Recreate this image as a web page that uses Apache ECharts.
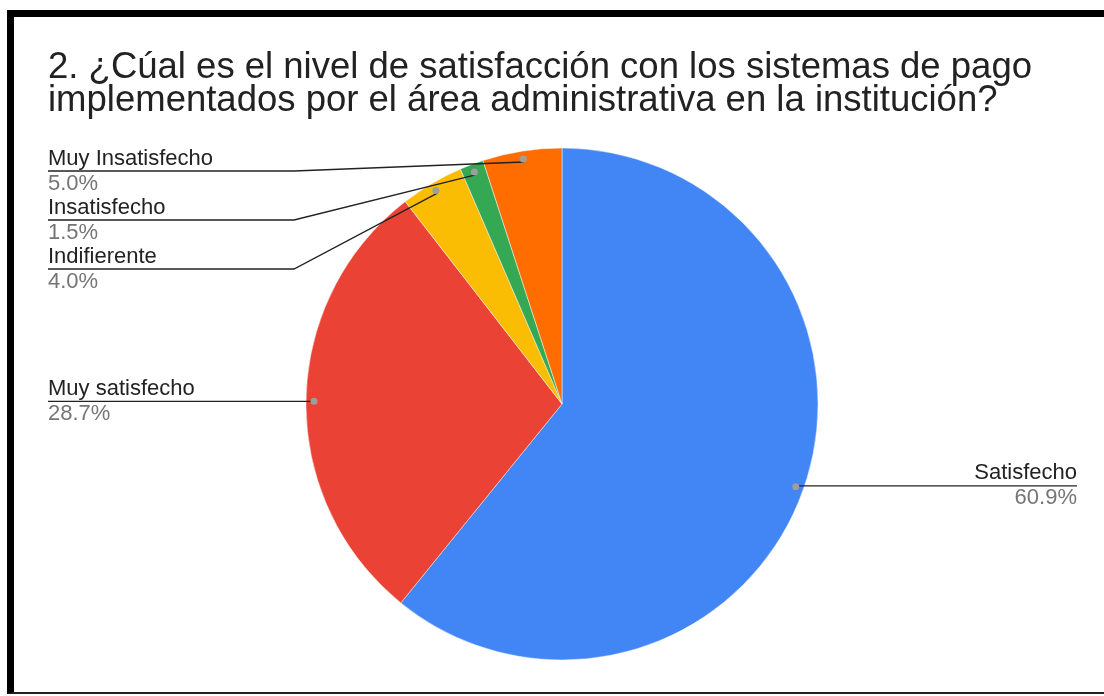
<!DOCTYPE html>
<html>
<head>
<meta charset="utf-8">
<script src="https://cdn.jsdelivr.net/npm/echarts@6/dist/echarts.min.js"></script>
<style>
  html, body { margin: 0; padding: 0; background: #fff; overflow: hidden; }
  #chart { position: absolute; left: 0; top: 0; width: 1104px; height: 696px; }
  #frame {
    position: absolute; left: 7px; top: 10px; width: 1110px; height: 684px;
    border-top: 7px solid #000; border-left: 7px solid #000; border-bottom: 2px solid #222;
    box-sizing: border-box; pointer-events: none;
  }
</style>
</head>
<body>
<div id="chart"></div>
<div id="frame"></div>
<script>
(function() {
  var categories = ['Satisfecho', 'Muy satisfecho', 'Indifierente', 'Insatisfecho', 'Muy Insatisfecho'];
  var values = [60.9, 28.7, 4.0, 1.5, 5.0];
  var colors = ['#4285F4', '#EA4335', '#FBBC04', '#34A853', '#FF6D01'];

  var font = '"Liberation Sans", Arial, sans-serif';
  var cx = 562, cy = 404, radius = 256, dotRadius = 245;
  var leftEdge = 48, rightEdge = 1077, bendX = 294, labelGap = 49, labelTop = 171;

  // leader dots sit at the middle angle of each slice
  var total = values.reduce(function(a, b) { return a + b; }, 0);
  var acc = 0;
  var dots = values.map(function(v) {
    var a = (acc + v / 2) / total * Math.PI * 2;
    acc += v;
    return [cx + dotRadius * Math.sin(a), cy - dotRadius * Math.cos(a)];
  });

  // stack the left-hand labels so they don't collide
  var labelY = dots.map(function(d) { return d[1]; });
  var leftIdx = dots.map(function(d, i) { return i; })
    .filter(function(i) { return dots[i][0] < cx; })
    .sort(function(a, b) { return dots[a][1] - dots[b][1]; });
  var prev = labelTop - labelGap;
  leftIdx.forEach(function(i) {
    labelY[i] = Math.max(dots[i][1], prev + labelGap);
    prev = labelY[i];
  });

  var pieData = categories.map(function(name, i) {
    return { name: name, value: values[i], itemStyle: { color: colors[i] } };
  });
  var ghostData = categories.map(function(name, i) {
    return { name: name, value: values[i] };
  });

  var ring = {
    type: 'pie',
    center: [cx, cy],
    radius: [dotRadius - 11, radius],
    startAngle: 90,
    clockwise: true,
    silent: true,
    avoidLabelOverlap: false,
    data: ghostData,
    itemStyle: { color: 'rgba(0,0,0,0)' }
  };

  var chart = echarts.init(document.getElementById('chart'), null, { renderer: 'canvas' });
  chart.setOption({
    animation: false,
    title: {
      text: '2. ¿Cúal es el nivel de satisfacción con los sistemas de pago\nimplementados por el área administrativa en la institución?',
      left: 43,
      top: 46,
      textStyle: { fontFamily: font, fontSize: 36.5, lineHeight: 33, fontWeight: 'normal', color: '#222' }
    },
    series: [
      {
        type: 'pie',
        center: [cx, cy],
        radius: radius,
        startAngle: 90,
        clockwise: true,
        silent: true,
        data: pieData,
        itemStyle: { borderColor: 'rgba(255,255,255,0.45)', borderWidth: 1 },
        label: { show: false },
        labelLine: { show: false }
      },
      Object.assign({}, ring, {
        // text labels and leader lines, drawn above the slices
        z: 5,
        label: {
          show: true,
          position: 'outside',
          overflow: 'none',
          fontFamily: font,
          formatter: function(p) { return '{n|' + p.name + '}\n{v|' + p.value.toFixed(1) + '%}'; },
          rich: {
            n: { fontFamily: font, fontSize: 22, lineHeight: 25, color: '#222' },
            v: { fontFamily: font, fontSize: 22, lineHeight: 25, color: '#757575' }
          }
        },
        labelLine: { show: true, length: 10, length2: 10, lineStyle: { color: '#222', width: 1.3 } },
        labelLayout: function(p) {
          var i = p.dataIndex;
          var d = dots[i];
          var y = labelY[i];
          if (d[0] < cx) {
            return {
              x: leftEdge, y: y, align: 'left', verticalAlign: 'middle',
              labelLinePoints: [[d[0], d[1]], [Math.min(bendX, d[0]), y], [leftEdge, y]]
            };
          }
          return {
            x: rightEdge, y: y, align: 'right', verticalAlign: 'middle',
            labelLinePoints: [[d[0], d[1]], [d[0], y], [rightEdge, y]]
          };
        }
      }),
      Object.assign({}, ring, {
        // grey leader dots
        z: 6,
        radius: [dotRadius - 11, dotRadius + 11],
        label: {
          show: true,
          position: 'inside',
          formatter: '{d|}',
          rich: { d: { width: 7, height: 7, borderRadius: 3.5, backgroundColor: '#9e9e9e' } }
        },
        labelLine: { show: false }
      })
    ]
  });
  window.addEventListener('resize', function() { chart.resize(); });
})();
</script>
</body>
</html>
